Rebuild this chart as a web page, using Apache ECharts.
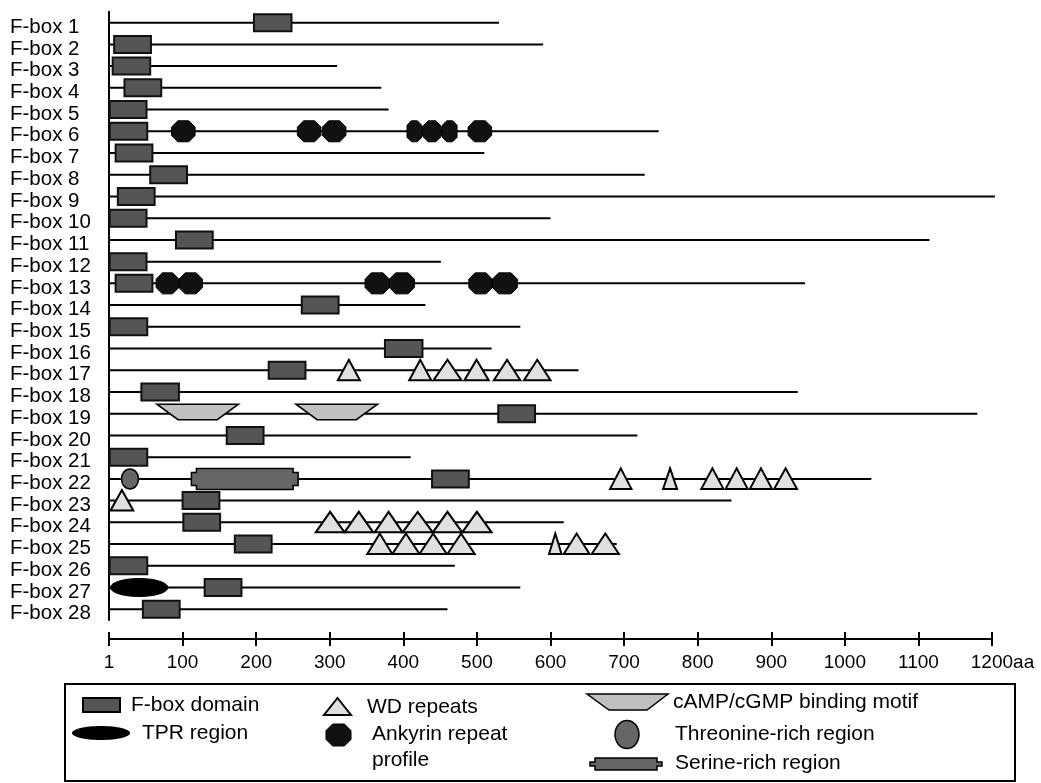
<!DOCTYPE html>
<html>
<head>
<meta charset="utf-8">
<script src="https://cdn.jsdelivr.net/npm/echarts@6/dist/echarts.min.js"></script>
<style>
  html, body { margin: 0; background: #fff; }
  #chart { width: 1041px; height: 783px; }
</style>
</head>
<body>
<div id="chart"></div>
<script>
// protein names (top to bottom)
const proteins = ['F-box 1', 'F-box 2', 'F-box 3', 'F-box 4', 'F-box 5', 'F-box 6', 'F-box 7',
  'F-box 8', 'F-box 9', 'F-box 10', 'F-box 11', 'F-box 12', 'F-box 13', 'F-box 14',
  'F-box 15', 'F-box 16', 'F-box 17', 'F-box 18', 'F-box 19', 'F-box 20', 'F-box 21',
  'F-box 22', 'F-box 23', 'F-box 24', 'F-box 25', 'F-box 26', 'F-box 27', 'F-box 28'];

// protein length in aa
const proteinLength = [530, 590, 310, 370, 380, 747, 510, 728, 1204, 600, 1115, 451, 946, 430,
  559, 520, 638, 936, 1180, 718, 410, 1036, 846, 618, 690, 470, 559, 460];

// domains: [protein no., start aa, end aa]
const fboxDomain = [
  [1, 197, 248], [2, 7, 57], [3, 5, 56], [4, 21, 71], [5, 1, 51], [6, 1, 52], [7, 9, 59],
  [8, 56, 106], [9, 12, 62], [10, 1, 51], [11, 91, 141], [12, 1, 51], [13, 9, 59], [14, 262, 312],
  [15, 1, 52], [16, 375, 426], [17, 217, 267], [18, 44, 95], [19, 529, 579], [20, 160, 210],
  [21, 1, 52], [22, 439, 489], [23, 100, 150], [24, 101, 151], [25, 171, 221], [26, 1, 52],
  [27, 130, 180], [28, 46, 96]
];

const ankyrinRepeat = [
  [6, 85, 117], [6, 256, 288], [6, 290, 322], [6, 405, 425], [6, 426, 452], [6, 453, 473], [6, 488, 520],
  [13, 64, 95], [13, 95, 127], [13, 348, 381], [13, 381, 415], [13, 489, 521], [13, 521, 555]
];

const wdRepeat = [
  [17, 311, 341], [17, 408, 438], [17, 441, 479], [17, 483, 516], [17, 523, 559], [17, 564, 600],
  [22, 681, 710], [22, 753, 772], [22, 805, 835], [22, 838, 868], [22, 871, 901], [22, 904, 935],
  [23, 2, 33],
  [24, 281, 320], [24, 320, 359], [24, 361, 399], [24, 399, 440], [24, 440, 480], [24, 480, 520],
  [25, 351, 385], [25, 385, 422], [25, 422, 459], [25, 460, 497], [25, 598, 615], [25, 618, 653], [25, 656, 693]
];

const campMotif = [[19, 65, 176], [19, 254, 365]];
const threonineRich = [[22, 17, 40]];
const serineRich = [[22, 112, 257]];
const tprRegion = [[27, 2, 80]];

const FONT = "'Liberation Sans', Arial, Helvetica, sans-serif";
const LEGEND_FONT = '21px ' + FONT;

function toData(list) {
  return list.map(d => [d[1], d[2], d[0] - 1]);
}

function span(api) {
  const a = api.coord([api.value(0), api.value(2)]);
  const b = api.coord([api.value(1), api.value(2)]);
  return { x0: a[0], x1: b[0], y: a[1] };
}

function octagonPoints(x0, x1, yc, h) {
  const w = x1 - x0;
  const c = Math.min(w, h) * 0.3;
  const t = yc - h / 2, b = yc + h / 2;
  return [[x0 + c, t], [x1 - c, t], [x1, t + c], [x1, b - c], [x1 - c, b], [x0 + c, b], [x0, b - c], [x0, t + c]];
}

function serinePoints(x0, x1, yc, h) {
  const t = yc - h / 2, b = yc + h / 2, n = 5, k = 4;
  return [[x0 + n, t], [x1 - n, t], [x1 - n, t + k], [x1, t + k], [x1, b - k], [x1 - n, b - k],
    [x1 - n, b], [x0 + n, b], [x0 + n, b - k], [x0, b - k], [x0, t + k], [x0 + n, t + k]];
}

function customSeries(name, data, draw, z) {
  return {
    name: name,
    type: 'custom',
    data: toData(data),
    encode: { x: [0, 1], y: 2 },
    z: z,
    silent: true,
    renderItem: function (params, api) {
      const s = span(api);
      return draw(s);
    }
  };
}

const backbone = proteinLength.map((len, i) => [i + 1, 1, len]);

const chart = echarts.init(document.getElementById('chart'));

chart.setOption({
  animation: false,
  backgroundColor: '#fff',
  grid: { left: 109, top: 11.8, width: 883, height: 608.3 },
  xAxis: [
    {
      type: 'value', min: 0, max: 1200, interval: 100, position: 'bottom', offset: 19,
      axisLine: { show: true, onZero: false, lineStyle: { color: '#000', width: 2 } },
      axisTick: { show: true, length: 7, lineStyle: { color: '#000', width: 2 } },
      axisLabel: {
        color: '#000', fontFamily: FONT, fontSize: 19, margin: 14,
        formatter: function (v) {
          if (v === 0) return '1';
          if (v === 1200) return '{p|}1200aa';
          return String(v);
        },
        rich: { p: { width: 21 } }
      },
      splitLine: { show: false }
    },
    {
      // upper half of the ticks (they cross the scale line)
      type: 'value', min: 0, max: 1200, interval: 100, position: 'bottom', offset: 19,
      axisLine: { show: false },
      axisTick: { show: true, inside: true, length: 7, lineStyle: { color: '#000', width: 2 } },
      axisLabel: { show: false },
      splitLine: { show: false }
    }
  ],
  yAxis: {
    type: 'category', data: proteins, inverse: true,
    axisLine: { show: true, lineStyle: { color: '#000', width: 2 } },
    axisTick: { show: false },
    axisLabel: {
      color: '#000', fontFamily: FONT, fontSize: 20.5, align: 'left', margin: 99, interval: 0,
      verticalAlign: 'top', lineHeight: 9
    }
  },
  series: [
    customSeries('backbone', backbone, s => ({
      type: 'line', shape: { x1: s.x0, y1: s.y, x2: s.x1, y2: s.y },
      style: { stroke: '#000', lineWidth: 2 }
    }), 1),
    customSeries('TPR region', tprRegion, s => ({
      type: 'ellipse',
      shape: { cx: (s.x0 + s.x1) / 2, cy: s.y, rx: (s.x1 - s.x0) / 2, ry: 9 },
      style: { fill: '#000', stroke: '#000', lineWidth: 1 }
    }), 3),
    customSeries('Threonine-rich region', threonineRich, s => ({
      type: 'ellipse',
      shape: { cx: (s.x0 + s.x1) / 2, cy: s.y, rx: (s.x1 - s.x0) / 2, ry: 10 },
      style: { fill: '#666', stroke: '#000', lineWidth: 1.5 }
    }), 3),
    customSeries('Serine-rich region', serineRich, s => ({
      type: 'polygon', shape: { points: serinePoints(s.x0, s.x1, s.y, 21) },
      style: { fill: '#666', stroke: '#000', lineWidth: 1.5 }
    }), 3),
    customSeries('cAMP/cGMP binding motif', campMotif, s => {
      const inset = (s.x1 - s.x0) * 0.26;
      return {
        type: 'polygon',
        shape: { points: [[s.x0, s.y - 9.5], [s.x1, s.y - 9.5], [s.x1 - inset, s.y + 6], [s.x0 + inset, s.y + 6]] },
        style: { fill: '#c0c0c0', stroke: '#000', lineWidth: 1.5 }
      };
    }, 3),
    customSeries('F-box domain', fboxDomain, s => ({
      type: 'rect', shape: { x: s.x0, y: s.y - 8.5, width: s.x1 - s.x0, height: 17 },
      style: { fill: '#555', stroke: '#111', lineWidth: 2 }
    }), 4),
    customSeries('Ankyrin repeat profile', ankyrinRepeat, s => ({
      type: 'polygon', shape: { points: octagonPoints(s.x0, s.x1, s.y, 21) },
      style: { fill: '#111', stroke: '#000', lineWidth: 1 }
    }), 4),
    customSeries('WD repeats', wdRepeat, s => ({
      type: 'polygon',
      shape: { points: [[s.x0, s.y + 10], [s.x1, s.y + 10], [(s.x0 + s.x1) / 2, s.y - 10.5]] },
      style: { fill: '#e0e0e0', stroke: '#000', lineWidth: 2 }
    }), 4)
  ],
  graphic: [
    { type: 'rect', shape: { x: 65, y: 684, width: 950, height: 97 }, style: { fill: 'none', stroke: '#000', lineWidth: 2 } },
    // F-box domain
    { type: 'rect', shape: { x: 83, y: 698, width: 37, height: 14 }, style: { fill: '#555', stroke: '#000', lineWidth: 2 } },
    { type: 'text', x: 131, y: 705, style: { text: 'F-box domain', font: LEGEND_FONT, fill: '#000', verticalAlign: 'middle' } },
    // TPR region
    { type: 'ellipse', shape: { cx: 101, cy: 733, rx: 29, ry: 7 }, style: { fill: '#000' } },
    { type: 'text', x: 142, y: 733, style: { text: 'TPR region', font: LEGEND_FONT, fill: '#000', verticalAlign: 'middle' } },
    // WD repeats
    { type: 'polygon', shape: { points: [[324, 715], [351, 715], [337.5, 698]] }, style: { fill: '#e0e0e0', stroke: '#000', lineWidth: 2 } },
    { type: 'text', x: 367, y: 707, style: { text: 'WD repeats', font: LEGEND_FONT, fill: '#000', verticalAlign: 'middle' } },
    // Ankyrin
    { type: 'polygon', shape: { points: octagonPoints(326, 351, 735, 22) }, style: { fill: '#111', stroke: '#000', lineWidth: 1 } },
    { type: 'text', x: 372, y: 734, style: { text: 'Ankyrin repeat', font: LEGEND_FONT, fill: '#000', verticalAlign: 'middle' } },
    { type: 'text', x: 372, y: 760, style: { text: 'profile', font: LEGEND_FONT, fill: '#000', verticalAlign: 'middle' } },
    // cAMP/cGMP
    { type: 'polygon', shape: { points: [[587, 694], [668, 694], [647, 710], [609, 710]] }, style: { fill: '#c0c0c0', stroke: '#000', lineWidth: 1.5 } },
    { type: 'text', x: 673, y: 702, style: { text: 'cAMP/cGMP binding motif', font: LEGEND_FONT, fill: '#000', verticalAlign: 'middle' } },
    // Threonine
    { type: 'ellipse', shape: { cx: 627, cy: 734.5, rx: 12, ry: 14 }, style: { fill: '#666', stroke: '#000', lineWidth: 1.5 } },
    { type: 'text', x: 675, y: 734, style: { text: 'Threonine-rich region', font: LEGEND_FONT, fill: '#000', verticalAlign: 'middle' } },
    // Serine
    { type: 'polygon', shape: { points: serinePoints(590, 662, 764, 12) }, style: { fill: '#666', stroke: '#000', lineWidth: 1.5 } },
    { type: 'text', x: 675, y: 763, style: { text: 'Serine-rich region', font: LEGEND_FONT, fill: '#000', verticalAlign: 'middle' } }
  ]
});

window.addEventListener('resize', () => {
  chart.resize();
});
</script>
</body>
</html>
